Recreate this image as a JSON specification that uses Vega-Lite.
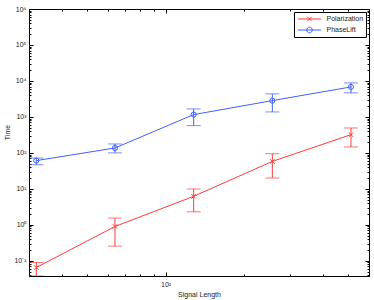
{
  "$schema": "https://vega.github.io/schema/vega-lite/v6.json",
  "width": 340,
  "height": 267,
  "autosize": {"type": "none"},
  "padding": {"left": 29, "top": 9, "right": 5, "bottom": 24},
  "background": "white",
  "config": {
    "view": {"stroke": null},
    "font": "Liberation Sans",
    "axis": {"grid": false, "domainColor": "#000000", "domainWidth": 1, "tickColor": "#000000", "tickWidth": 1, "labelFont": "Liberation Sans", "labelFontSize": 7, "labelColor": "#222222", "titleFont": "Liberation Sans", "titleFontSize": 7, "titleFontWeight": "normal", "titleColor": "#222222", "labelOverlap": false, "labelBound": false, "labelFlush": false}
  },
  "data": {
    "values": [
      {"series": "Polarization", "n": 32, "t": 0.065, "lo": 0.0378, "hi": 0.09},
      {"series": "Polarization", "n": 64, "t": 0.9, "lo": 0.256, "hi": 1.54},
      {"series": "Polarization", "n": 128, "t": 6.2, "lo": 2.3, "hi": 9.9},
      {"series": "Polarization", "n": 256, "t": 58, "lo": 20, "hi": 95},
      {"series": "Polarization", "n": 512, "t": 321, "lo": 146, "hi": 493},
      {"series": "PhaseLift", "n": 32, "t": 61, "lo": 47, "hi": 72},
      {"series": "PhaseLift", "n": 64, "t": 137, "lo": 100, "hi": 177},
      {"series": "PhaseLift", "n": 128, "t": 1160, "lo": 573, "hi": 1668},
      {"series": "PhaseLift", "n": 256, "t": 2840, "lo": 1377, "hi": 4370},
      {"series": "PhaseLift", "n": 512, "t": 6820, "lo": 4660, "hi": 8830}
    ]
  },
  "resolve": {"axis": {"x": "independent", "y": "independent"}},
  "layer": [
    {
      "transform": [{"filter": "datum.series == 'Polarization'"}],
      "mark": {"type": "line", "color": "#ff3b3b", "strokeWidth": 1, "clip": true},
      "encoding": {
        "x": {"field": "n", "type": "quantitative", "scale": {"type": "log", "domain": [30, 600], "nice": false},
          "axis": {"orient": "bottom", "values": [30, 40, 50, 60, 70, 80, 90, 100, 200, 300, 400, 500, 600],
            "tickSize": {"condition": {"test": "datum.value == 100", "value": -4}, "value": -2},
            "labelExpr": "datum.value == 100 ? '10²' : ''", "labelPadding": 8,
            "title": "Signal Length", "titleY": 18, "titleBaseline": "middle"}},
        "y": {"field": "t", "type": "quantitative", "scale": {"type": "log", "domain": [0.0378, 1000000], "nice": false},
          "axis": {"orient": "left",
            "values": [0.04, 0.05, 0.06, 0.07, 0.08, 0.09, 0.1, 0.2, 0.3, 0.4, 0.5, 0.6, 0.7, 0.8, 0.9, 1, 2, 3, 4, 5, 6, 7, 8, 9, 10, 20, 30, 40, 50, 60, 70, 80, 90, 100, 200, 300, 400, 500, 600, 700, 800, 900, 1000, 2000, 3000, 4000, 5000, 6000, 7000, 8000, 9000, 10000, 20000, 30000, 40000, 50000, 60000, 70000, 80000, 90000, 100000, 200000, 300000, 400000, 500000, 600000, 700000, 800000, 900000, 1000000],
            "tickSize": {"condition": {"test": "indexof([0.1, 1, 10, 100, 1000, 10000, 100000, 1000000], datum.value) >= 0", "value": -4}, "value": -2},
            "labelExpr": "datum.value == 1000000 ? '10⁶' : datum.value == 100000 ? '10⁵' : datum.value == 10000 ? '10⁴' : datum.value == 1000 ? '10³' : datum.value == 100 ? '10²' : datum.value == 10 ? '10¹' : datum.value == 1 ? '10⁰' : datum.value == 0.1 ? '10⁻¹' : ''",
            "labelPadding": 7, "title": "Time", "titleAngle": 270, "titleX": -22, "titleY": 123, "titleBaseline": "middle", "titleAlign": "center"}}
      }
    },
    {
      "transform": [{"filter": "datum.series == 'PhaseLift'"}],
      "mark": {"type": "line", "color": "#4060ff", "strokeWidth": 1, "clip": true},
      "encoding": {
        "x": {"field": "n", "type": "quantitative",
          "axis": {"orient": "top", "values": [30, 40, 50, 60, 70, 80, 90, 100, 200, 300, 400, 500, 600],
            "tickSize": {"condition": {"test": "datum.value == 100", "value": -4}, "value": -2},
            "labels": false, "title": null}},
        "y": {"field": "t", "type": "quantitative",
          "axis": {"orient": "right",
            "values": [0.04, 0.05, 0.06, 0.07, 0.08, 0.09, 0.1, 0.2, 0.3, 0.4, 0.5, 0.6, 0.7, 0.8, 0.9, 1, 2, 3, 4, 5, 6, 7, 8, 9, 10, 20, 30, 40, 50, 60, 70, 80, 90, 100, 200, 300, 400, 500, 600, 700, 800, 900, 1000, 2000, 3000, 4000, 5000, 6000, 7000, 8000, 9000, 10000, 20000, 30000, 40000, 50000, 60000, 70000, 80000, 90000, 100000, 200000, 300000, 400000, 500000, 600000, 700000, 800000, 900000, 1000000],
            "tickSize": {"condition": {"test": "indexof([0.1, 1, 10, 100, 1000, 10000, 100000, 1000000], datum.value) >= 0", "value": -4}, "value": -2},
            "labels": false, "title": null}}
      }
    },
    {
      "transform": [{"filter": "datum.series == 'Polarization'"}],
      "mark": {"type": "rule", "color": "#ff3b3b", "strokeWidth": 1, "clip": true},
      "encoding": {
        "x": {"field": "n", "type": "quantitative", "axis": null},
        "y": {"field": "lo", "type": "quantitative", "axis": null},
        "y2": {"field": "hi"}
      }
    },
    {
      "transform": [{"filter": "datum.series == 'PhaseLift'"}],
      "mark": {"type": "rule", "color": "#4060ff", "strokeWidth": 1, "clip": true},
      "encoding": {
        "x": {"field": "n", "type": "quantitative", "axis": null},
        "y": {"field": "lo", "type": "quantitative", "axis": null},
        "y2": {"field": "hi"}
      }
    },
    {
      "transform": [{"filter": "datum.series == 'Polarization'"}],
      "mark": {"type": "tick", "orient": "horizontal", "color": "#ff3b3b", "size": 14, "thickness": 1, "clip": true},
      "encoding": {
        "x": {"field": "n", "type": "quantitative", "axis": null},
        "y": {"field": "lo", "type": "quantitative", "axis": null}
      }
    },
    {
      "transform": [{"filter": "datum.series == 'Polarization'"}],
      "mark": {"type": "tick", "orient": "horizontal", "color": "#ff3b3b", "size": 14, "thickness": 1, "clip": true},
      "encoding": {
        "x": {"field": "n", "type": "quantitative", "axis": null},
        "y": {"field": "hi", "type": "quantitative", "axis": null}
      }
    },
    {
      "transform": [{"filter": "datum.series == 'PhaseLift'"}],
      "mark": {"type": "tick", "orient": "horizontal", "color": "#4060ff", "size": 14, "thickness": 1, "clip": true},
      "encoding": {
        "x": {"field": "n", "type": "quantitative", "axis": null},
        "y": {"field": "lo", "type": "quantitative", "axis": null}
      }
    },
    {
      "transform": [{"filter": "datum.series == 'PhaseLift'"}],
      "mark": {"type": "tick", "orient": "horizontal", "color": "#4060ff", "size": 14, "thickness": 1, "clip": true},
      "encoding": {
        "x": {"field": "n", "type": "quantitative", "axis": null},
        "y": {"field": "hi", "type": "quantitative", "axis": null}
      }
    },
    {
      "transform": [{"filter": "datum.series == 'Polarization'"}],
      "mark": {"type": "point", "shape": "M-1,-1L1,1M-1,1L1,-1", "size": 20, "filled": false, "color": "#ff3b3b", "strokeWidth": 1, "opacity": 1},
      "encoding": {
        "x": {"field": "n", "type": "quantitative", "axis": null},
        "y": {"field": "t", "type": "quantitative", "axis": null}
      }
    },
    {
      "transform": [{"filter": "datum.series == 'PhaseLift'"}],
      "mark": {"type": "point", "shape": "circle", "size": 26, "filled": false, "color": "#4060ff", "strokeWidth": 1, "opacity": 1},
      "encoding": {
        "x": {"field": "n", "type": "quantitative", "axis": null},
        "y": {"field": "t", "type": "quantitative", "axis": null}
      }
    },
    {
      "mark": {"type": "point", "filled": false, "size": 81, "strokeWidth": 1, "opacity": 0},
      "encoding": {
        "x": {"field": "n", "type": "quantitative", "axis": null},
        "y": {"field": "t", "type": "quantitative", "axis": null},
        "color": {"field": "series", "type": "nominal",
          "scale": {"domain": ["Polarization", "PhaseLift"], "range": ["#ff3b3b", "#4060ff"]},
          "legend": {"orient": "top-right", "offset": 3, "title": null, "padding": 2, "strokeColor": "#000000", "fillColor": "white", "cornerRadius": 0,
            "labelFont": "Liberation Sans", "labelFontSize": 7, "labelColor": "#222222", "labelOffset": 20.5, "symbolOpacity": 1, "symbolStrokeWidth": 1, "symbolSize": 81, "rowPadding": 1,
            "encode": {"symbols": {"update": {"stroke": {"scale": "color", "field": "value"}, "opacity": {"value": 1}, "strokeOpacity": {"value": 1}, "fill": {"value": "transparent"}}}}}},
        "shape": {"field": "series", "type": "nominal",
          "scale": {"domain": ["Polarization", "PhaseLift"], "range": ["M-0.67,0L4.44,0M1.4,-0.49L2.38,0.49M1.4,0.49L2.38,-0.49", "M-0.67,0L4.44,0M1.27,0A0.62,0.62,0,1,1,2.51,0A0.62,0.62,0,1,1,1.27,0"]}}
      }
    }
  ]
}
